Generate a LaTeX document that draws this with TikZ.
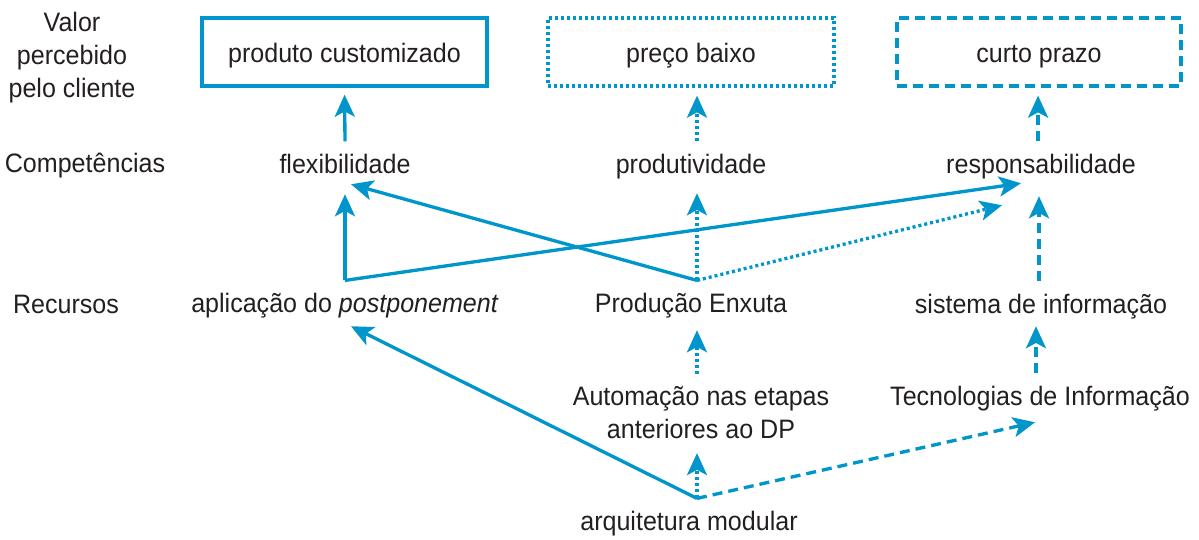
\documentclass[tikz,border=0pt]{standalone}
\usepackage{fontspec}
\setmainfont{Liberation Sans}[FakeStretch=0.94]
\usetikzlibrary{arrows.meta}
\definecolor{bl}{RGB}{0,150,204}
\definecolor{tx}{RGB}{35,31,32}
\begin{document}
\begin{tikzpicture}[x=0.75pt,y=-0.75pt,
  every node/.style={text=tx, font=\fontsize{20}{25}\selectfont},
  lbl/.style={anchor=base, inner xsep=0pt, inner ysep=9.5pt, text height=14pt, text depth=4pt},
  vbox/.style={draw=bl, line width=2.5pt, minimum width=#1, minimum height=51pt, anchor=base, text height=15pt, text depth=0pt, inner sep=0pt},
  con/.style={draw=bl, line width=2.5pt, -{Stealth[length=16.5pt,width=15pt,inset=4pt]}},
  dots/.style={dash pattern=on 2.3pt off 2.2pt},
  dashes/.style={dash pattern=on 7.5pt off 4.5pt},
]
\useasboundingbox (0,0) rectangle (1199,539);

% row labels
\node[align=center, inner sep=0pt] (lv) at (72,57.5) {Valor\\percebido\\pelo cliente};
\node[anchor=base, inner sep=0pt] (lc) at (85,172) {Competências};
\node[anchor=base, inner sep=0pt] (lr) at (66,313) {Recursos};

% boxes
\node[vbox=213.75pt] (box1) at (344.5,62) {produto customizado};
\node[vbox=214.5pt, dots] (box2) at (691,62) {preço baixo};
\node[vbox=213pt, dashes] (box3) at (1039,62) {curto prazo};

% competences
\node[lbl] (flex) at (345,173) {flexibilidade};
\node[lbl] (prodt) at (691,173) {produtividade};
\node[lbl] (resp) at (1041,173) {responsabilidade};

% resources
\node[lbl] (aplic) at (345,312) {aplicação do \textit{postponement}};
\node[lbl] (prodE) at (691,312) {Produção Enxuta};
\node[lbl] (sis) at (1041,313) {sistema de informação};

\node[align=center, inner xsep=0pt, inner ysep=9pt] (auto) at (701,412.5) {Automação nas etapas\\anteriores ao DP};
\node[lbl] (tec) at (1040,405) {Tecnologias de Informação};
\node[lbl] (arq) at (689,530) {arquitetura modular};

% connectors
\draw[con, shorten >=5.3pt] (flex.north) -- (box1.south);
\draw[con, dots, shorten >=6pt] ([xshift=4.5pt]prodt.north) -- ([xshift=4.5pt]box2.south);
\draw[con, dashes, shorten >=6pt] ([xshift=-2.2pt]resp.north) -- ([xshift=-0.7pt]box3.south);

\draw[con] (aplic.north) -- ([shift={(0,3)}]flex.south);
\draw[con] (aplic.north) -- ([shift={(-20,-8)}]resp.south);

\draw[con] ([xshift=4.5pt]prodE.north) -- ([shift={(6,-7)}]flex.south);
\draw[con, dots] ([xshift=4.5pt]prodE.north) -- ([shift={(6,2)}]prodt.south);
\draw[con, dots] ([xshift=4.5pt]prodE.north) -- ([shift={(-39,14)}]resp.south);

\draw[con, dashes] ([xshift=-1.5pt]sis.north) -- ([shift={(-2,5)}]resp.south);

\draw[con, dots] ([xshift=-3pt]auto.north) -- ([xshift=4.5pt]prodE.south);
\draw[con, dots] ([xshift=6pt]arq.north) -- ([shift={(-4,2)}]auto.south);
\draw[con] ([xshift=6pt]arq.north) -- ([shift={(6,-4)}]aplic.south);
\draw[con, dashes] ([xshift=6pt]arq.north) -- ([shift={(-5,-1)}]tec.south);

\draw[con, dashes] ([xshift=-3pt]tec.north) -- ([shift={(-5,-5)}]sis.south);
\end{tikzpicture}
\end{document}
